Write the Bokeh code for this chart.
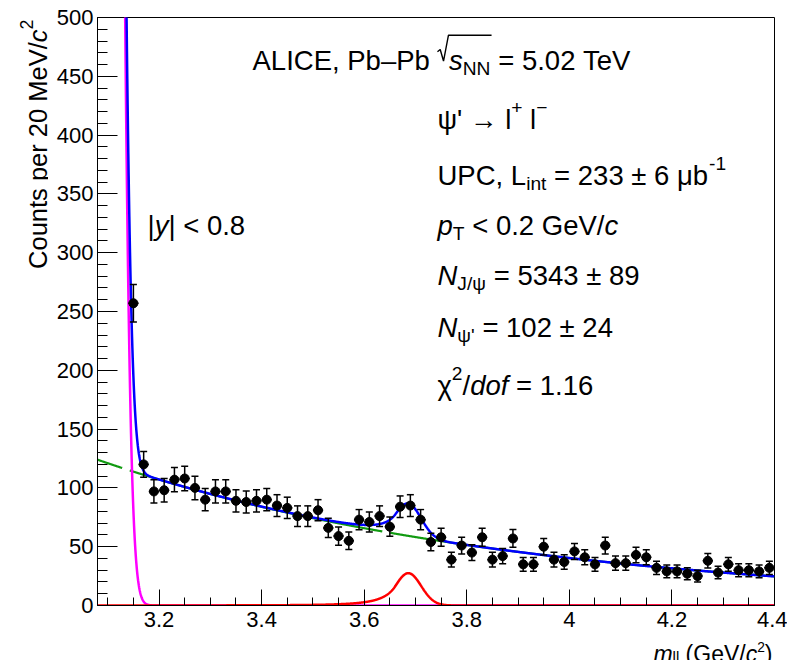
import numpy as np
from math import pi
from bokeh.plotting import figure
from bokeh.layouts import row, column
from bokeh.models import Label, SingleIntervalTicker, CustomJSTickFormatter, Range1d, Whisker, ColumnDataSource, TeeHead
from bokeh.embed import file_html
from bokeh.resources import INLINE

# ---------------- data ----------------
mass = [3.15, 3.17, 3.19, 3.21, 3.23, 3.25, 3.27, 3.29, 3.31, 3.33,
        3.35, 3.37, 3.39, 3.41, 3.43, 3.45, 3.47, 3.49, 3.51, 3.53,
        3.55, 3.57, 3.59, 3.61, 3.63, 3.65, 3.67, 3.69, 3.71, 3.73,
        3.75, 3.77, 3.79, 3.81, 3.83, 3.85, 3.87, 3.89, 3.91, 3.93,
        3.95, 3.97, 3.99, 4.01, 4.03, 4.05, 4.07, 4.09, 4.11, 4.13,
        4.15, 4.17, 4.19, 4.21, 4.23, 4.25, 4.27, 4.29, 4.31, 4.33,
        4.35, 4.37, 4.39]
counts = [257, 120, 97, 98, 107, 108, 100, 90, 97, 97,
          89, 88, 89, 90, 85, 83, 76, 76, 81, 66,
          59, 55, 73, 71, 76, 67, 84, 85, 73, 54,
          58, 39, 51, 45, 58, 39, 42, 57, 35, 35,
          50, 39, 37, 46, 41, 35, 51, 36, 36, 43,
          41, 32, 29, 29, 27, 25, 38, 28, 35, 30,
          30, 29, 32]
bin_half = 0.01

# fit-function parameters
bkg_norm, bkg_slope, bkg_ref = 124.0, 1.22, 3.08
jpsi_amp, jpsi_mean, jpsi_sigma = 2803.0, 3.097, 0.0199
psi2s_amp, psi2s_mean, psi2s_sigma, cb_alpha, cb_n = 27.5, 3.686, 0.025, 1.0, 3.0

x_lo, x_hi, y_lo, y_hi = 3.08, 4.4, 0, 500

# ---------------- layout geometry (page pixels) ----------------
W, H = 787, 660
YS_W = 48            # left strip holding the y title
XS_H = 30            # bottom strip holding the x title
MAIN_W, MAIN_H = W - YS_W, H - XS_H
FX0, FX1, FY0, FY1 = 97, 774, 17, 605   # frame in page pixels

p = figure(width=MAIN_W, height=MAIN_H, x_range=Range1d(x_lo, x_hi), y_range=Range1d(y_lo, y_hi),
           output_backend="svg", toolbar_location=None, title=None,
           min_border_left=FX0 - YS_W, min_border_right=W - FX1,
           min_border_top=FY0, min_border_bottom=MAIN_H - FY1)
p.frame_align = False
p.xgrid.visible = False
p.ygrid.visible = False
p.outline_line_color = "black"
p.outline_line_width = 1
p.background_fill_color = "white"
p.border_fill_color = "white"

FONT = "Liberation Sans"
for ax in (p.xaxis[0], p.yaxis[0]):
    ax.axis_line_color = "black"
    ax.axis_line_width = 1
    ax.major_tick_line_color = "black"
    ax.minor_tick_line_color = "black"
    ax.major_tick_out = 0
    ax.minor_tick_out = 0
    ax.major_label_text_font = FONT
    ax.major_label_text_font_size = "22px"
    ax.major_label_text_color = "black"

p.xaxis.ticker = SingleIntervalTicker(interval=0.2, num_minor_ticks=4)
p.xaxis.formatter = CustomJSTickFormatter(code="return String(Math.round(tick*10)/10);")
p.xaxis.major_tick_in = 16
p.xaxis.minor_tick_in = 8
p.xaxis.major_label_standoff = 6

p.yaxis.ticker = SingleIntervalTicker(interval=50, num_minor_ticks=5)
p.yaxis.major_tick_in = 20
p.yaxis.minor_tick_in = 10
p.yaxis.major_label_standoff = 4


def strip(w, h):
    f = figure(width=w, height=h, x_range=Range1d(0, w), y_range=Range1d(0, h),
               output_backend="svg", toolbar_location=None, title=None,
               min_border_left=0, min_border_right=0, min_border_top=0, min_border_bottom=0,
               x_axis_location=None, y_axis_location=None)
    f.frame_align = False
    f.grid.visible = False
    f.outline_line_color = None
    f.background_fill_color = "white"
    f.border_fill_color = "white"
    return f


ys = strip(YS_W, MAIN_H)
xs = strip(W, XS_H)

# ---------------- curves ----------------
m = np.linspace(x_lo, x_hi, 2000)
bkg = bkg_norm * np.exp(-bkg_slope * (m - bkg_ref))
jpsi = jpsi_amp * np.exp(-0.5 * ((m - jpsi_mean) / jpsi_sigma) ** 2)
t = (m - psi2s_mean) / psi2s_sigma
A_cb = (cb_n / cb_alpha) ** cb_n * np.exp(-cb_alpha ** 2 / 2)
B_cb = cb_n / cb_alpha - cb_alpha
psi2s = psi2s_amp * np.where(t > -cb_alpha, np.exp(-0.5 * t ** 2),
                             A_cb * np.abs(B_cb - t) ** (-cb_n))
total = bkg + jpsi + psi2s

p.line(m, bkg, line_color="#109a10", line_width=2.2, line_dash="260 8", line_dash_offset=234)
p.line(m, jpsi, line_color="#ff00ff", line_width=2.5)
p.line(m, total, line_color="#0000ff", line_width=2.5)
p.line(m, psi2s, line_color="#ff0000", line_width=2.5)

# ---------------- data points ----------------
err = np.sqrt(np.array(counts, dtype=float))
src = ColumnDataSource(dict(x=mass, y=counts,
                            lo=np.array(counts) - err, hi=np.array(counts) + err,
                            xl=np.array(mass) - bin_half, xr=np.array(mass) + bin_half))
p.segment(x0="xl", x1="xr", y0="y", y1="y", source=src, line_color="black", line_width=1.5)
p.add_layout(Whisker(base="x", lower="lo", upper="hi", source=src, dimension="height",
                     line_color="black", line_width=1.5,
                     upper_head=TeeHead(size=7, line_color="black", line_width=1.5),
                     lower_head=TeeHead(size=7, line_color="black", line_width=1.5),
                     level="glyph"))
p.scatter("x", "y", source=src, size=9, color="black")

# ---------------- rich text helper ----------------
CW = {' ': 278, '\u00a0': 278, ',': 278, '.': 278, '/': 278, '<': 584, '=': 584, '±': 584, '+': 584,
      '–': 556, '−': 584, '-': 333, '→': 1000, '|': 260, "'": 191, '(': 333, ')': 333,
      'ψ': 712, 'χ': 521, 'μ': 577,
      'A': 667, 'L': 556, 'I': 278, 'C': 722, 'E': 667, 'P': 667, 'T': 611, 'V': 667,
      'U': 722, 'G': 778, 'N': 722, 'J': 500, 'M': 833,
      'b': 556, 'e': 556, 'i': 222, 'n': 556, 't': 278, 'c': 500, 'p': 556, 'd': 556,
      'o': 556, 'f': 278, 's': 500, 'y': 500, 'l': 222, 'u': 556, 'r': 333, 'm': 833}
for d in "0123456789":
    CW[d] = 556


def tw(s, size):
    return sum(CW.get(ch, 556) for ch in s) * size / 1000.0


# mappers: page pixel -> (data x, data y, x offset px, y offset px)
def main_map(px, py):
    return (x_lo + (px - FX0) * (x_hi - x_lo) / (FX1 - FX0),
            y_lo + (FY1 - py) * (y_hi - y_lo) / (FY1 - FY0), 0, 0)


def ys_map(px, py):
    return px, MAIN_H - py, 0, 0


def xs_map(px, py):
    # anchored at the strip's top-left corner, offsets in pixels
    return 0, XS_H, px, -(py - MAIN_H)


STY = {"n": (1.0, "normal", 0.0), "i": (1.0, "italic", 0.0),
       "sub": (0.7, "normal", -0.28), "sup": (0.7, "normal", 0.42),
       "sub_x": (0.65, "normal", -0.15), "sup_x": (0.6, "normal", 0.28)}


def rich(fig, mapper, parts, x, y, size, align="left", vertical=False):
    parts = [(s.replace(" ", "\u00a0"), k) for s, k in parts]
    total_w = sum(tw(s, size * STY[k][0]) for s, k in parts)
    adv = -total_w if align == "right" else 0.0
    spans = []
    for s, k in parts:
        sc, style, shift = STY[k]
        fs = size * sc
        if not vertical:
            px, py = x + adv, y - shift * size
            ang = 0
        else:
            px, py = x - shift * size, y - adv
            ang = pi / 2
        dx, dy, ox, oy = mapper(px, py)
        fig.add_layout(Label(x=dx, y=dy, x_offset=ox, y_offset=oy, text=s, text_font=FONT,
                             text_font_size=f"{fs:.1f}px", text_font_style=style,
                             text_color="black", text_align="left", text_baseline="alphabetic",
                             angle=ang))
        spans.append((x + adv, x + adv + tw(s, fs)))
        adv += tw(s, fs)
    return spans


TS = 27.5
# ALICE line with a drawn square-root sign
b0 = 60
sp = rich(p, main_map, [("ALICE, Pb–Pb ", "n")], 252, b0, TS)
rad_x = sp[0][1]
rad_w = 0.42 * TS
sp2 = rich(p, main_map, [("s", "i"), ("NN", "sub"), (" = 5.02 TeV", "n")], rad_x + rad_w, b0, TS)
end_nn = sp2[1][1]
rad_px = [rad_x, rad_x + 0.1 * TS, rad_x + 0.22 * TS, rad_x + rad_w - 0.02 * TS, end_nn + 1]
rad_py = [b0 - 0.32 * TS, b0 - 0.40 * TS, b0 + 0.02 * TS, b0 - 0.92 * TS, b0 - 0.92 * TS]
rxy = [main_map(a, b) for a, b in zip(rad_px, rad_py)]
p.line([r[0] for r in rxy], [r[1] for r in rxy], line_color="black", line_width=1.4)

rich(p, main_map, [("ψ' → l", "n"), ("+", "sup"), (" l", "n"), ("−", "sup")], 437, 119, TS)
rich(p, main_map, [("UPC, L", "n"), ("int", "sub"), (" = 233 ± 6 μb", "n"), ("-1", "sup")], 437, 175, TS)
rich(p, main_map, [("p", "i"), ("T", "sub"), (" < 0.2 GeV/", "n"), ("c", "i")], 437, 225, TS)
rich(p, main_map, [("N", "i"), ("J/ψ", "sub"), (" = 5343 ± 89", "n")], 437, 275, TS)
rich(p, main_map, [("N", "i"), ("ψ'", "sub"), (" = 102 ± 24", "n")], 437, 327, TS)
rich(p, main_map, [("χ", "n"), ("2", "sup"), ("/", "n"), ("dof", "i"), (" = 1.16", "n")], 437, 385, TS)
rich(p, main_map, [("|", "n"), ("y", "i"), ("| < 0.8", "n")], 147, 225, TS)

# axis titles (in their own strips)
AT = 25.5
rich(ys, ys_map, [("Counts per 20 MeV/", "n"), ("c", "i"), ("2", "sup")], 37, 19, AT,
     align="right", vertical=True)
rich(xs, xs_map, [("m", "i"), ("ll", "sub_x"), (" (GeV/", "n"), ("c", "i"), ("2", "sup_x"), (")", "n")],
     772, 653, 23, align="right")

layout = column(row(ys, p), xs)
open("out.html", "w").write(file_html(layout, INLINE))
